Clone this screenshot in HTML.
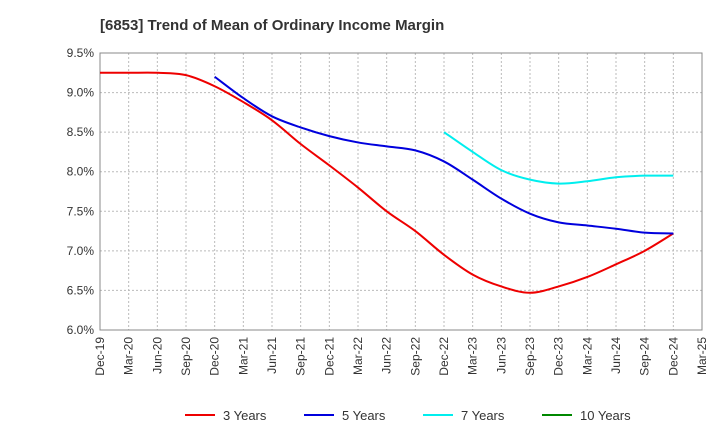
<!DOCTYPE html>
<html><head><meta charset="utf-8"><style>
body{margin:0;background:#fff;font-family:"Liberation Sans",sans-serif}
</style></head><body>
<svg id="c" width="720" height="440" xmlns="http://www.w3.org/2000/svg">
<text x="100" y="30" font-size="15" font-weight="bold" fill="#333">[6853]  Trend of Mean of Ordinary Income Margin</text>
<g id="grid"></g><g id="axes"></g><g id="series"></g><g id="legend"></g>
</svg>
<script>
const categories=["Dec-19","Mar-20","Jun-20","Sep-20","Dec-20","Mar-21","Jun-21","Sep-21","Dec-21","Mar-22","Jun-22","Sep-22","Dec-22","Mar-23","Jun-23","Sep-23","Dec-23","Mar-24","Jun-24","Sep-24","Dec-24","Mar-25"];
const yTicks=[6.0,6.5,7.0,7.5,8.0,8.5,9.0,9.5];
const y3=[9.25,9.25,9.25,9.22,9.08,8.88,8.65,8.35,8.08,7.8,7.5,7.25,6.95,6.7,6.55,6.47,6.55,6.67,6.83,7.0,7.22];
const y5=[null,null,null,null,9.2,8.93,8.7,8.56,8.45,8.37,8.32,8.27,8.13,7.9,7.66,7.47,7.36,7.32,7.28,7.23,7.22];
const y7=[null,null,null,null,null,null,null,null,null,null,null,null,8.5,8.25,8.02,7.9,7.85,7.88,7.93,7.95,7.95];
const y10=[];
const seriesNames=["3 Years","5 Years","7 Years","10 Years"];
const colors=["#e00","#00d","#0ee","#080"];
const L=100,R=702,T=53,B=330;
const xs=i=>L+i*(R-L)/(categories.length-1);
const ys=v=>B-(v-6.0)/3.5*(B-T);
const NS="http://www.w3.org/2000/svg";
function mk(t,a,p){const e=document.createElementNS(NS,t);for(const k in a)e.setAttribute(k,a[k]);p.appendChild(e);return e;}
const g=document.getElementById('grid'),ax=document.getElementById('axes');
categories.forEach((c,i)=>{
 const l=mk('line',{x1:xs(i),x2:xs(i),y1:T,y2:B,stroke:'#bbb','stroke-dasharray':'2,2'},g);
 
 const t=mk('text',{x:0,y:0,'font-size':12,fill:'#333','text-anchor':'end',transform:`translate(${xs(i)+4},${B+7}) rotate(-90)`},ax);
 t.textContent=c;
});
yTicks.forEach(v=>{
 const l=mk('line',{x1:L,x2:R,y1:ys(v),y2:ys(v),stroke:'#bbb','stroke-dasharray':'2,2'},g);
 
 const t=mk('text',{x:L-6,y:ys(v)+4,'font-size':12,fill:'#333','text-anchor':'end'},ax);
 t.textContent=v.toFixed(1)+'%';
});
const fr=mk('rect',{x:L,y:T,width:R-L,height:B-T,fill:'none',stroke:'#888'},ax);

function path(arr){const p=[];arr.forEach((v,i)=>{if(v!=null)p.push([xs(i),ys(v)]);});if(p.length<2)return '';
 let d=`M${p[0][0]},${p[0][1]}`;
 for(let i=0;i<p.length-1;i++){const p0=p[i-1]||p[i],p1=p[i],p2=p[i+1],p3=p[i+2]||p2;
  d+=` C${p1[0]+(p2[0]-p0[0])/6},${p1[1]+(p2[1]-p0[1])/6} ${p2[0]-(p3[0]-p1[0])/6},${p2[1]-(p3[1]-p1[1])/6} ${p2[0]},${p2[1]}`;}
 return d;}
const s=document.getElementById('series');
[y3,y5,y7,y10].forEach((arr,k)=>{const d=path(arr);if(!d)return;
 const e=mk('path',{d:d,fill:'none',stroke:colors[k],'stroke-width':2},s);
 });
const lg=document.getElementById('legend');const lx=[185,304,423,542];
seriesNames.forEach((n,k)=>{
 const gi=mk('g',{},lg);
 mk('line',{x1:lx[k],x2:lx[k]+30,y1:415,y2:415,stroke:colors[k],'stroke-width':2},gi);
 const t=mk('text',{x:lx[k]+38,y:420,'font-size':13,fill:'#333'},gi);t.textContent=n;});
</script>
</body></html>
